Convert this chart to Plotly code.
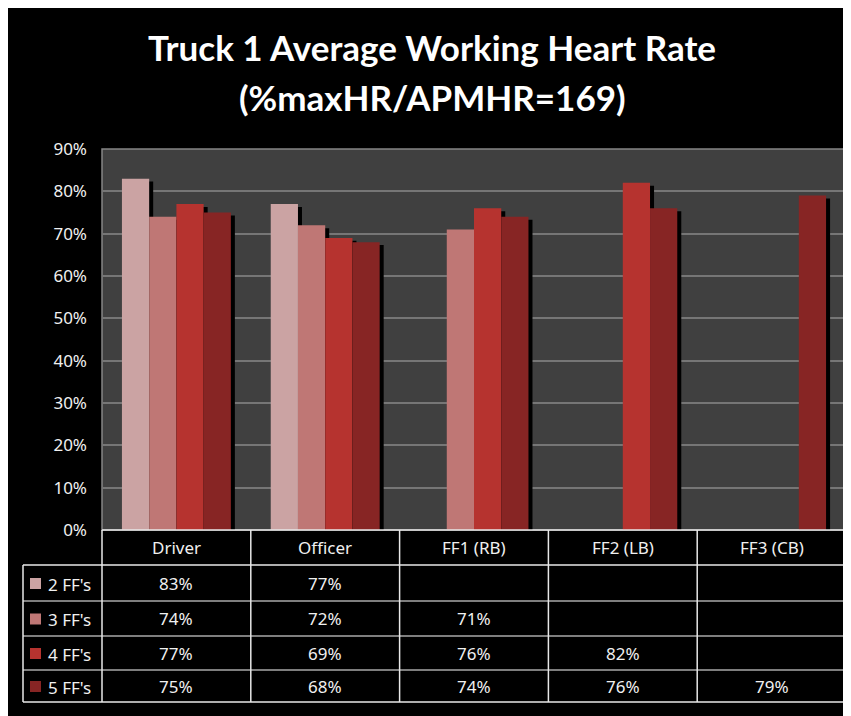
import plotly.graph_objects as go

# ---------------- data ----------------
categories = ["Driver", "Officer", "FF1 (RB)", "FF2 (LB)", "FF3 (CB)"]
series_names = ["2 FF's", "3 FF's", "4 FF's", "5 FF's"]
ff2_values = [83, 77, None, None, None]
ff3_values = [74, 72, 71, None, None]
ff4_values = [77, 69, 76, 82, None]
ff5_values = [75, 68, 74, 76, 79]
y_tick_values = [0, 10, 20, 30, 40, 50, 60, 70, 80, 90]
y_tick_labels = ["0%", "10%", "20%", "30%", "40%", "50%", "60%", "70%", "80%", "90%"]
title_line1 = "Truck 1 Average Working Heart Rate"
title_line2 = "(%maxHR/APMHR=169)"

series_values = [ff2_values, ff3_values, ff4_values, ff5_values]
series_colors = ["#CBA3A3", "#BF7775", "#B6332F", "#872524"]

# ---------------- geometry (screen px; page has 8px body margin) ----------------
W, H = 851, 716
OFF = 8
L = 102 - OFF
T = 149 - OFF
PLOT_BOTTOM = 530 - OFF
PW = 744
R = W - L - PW
B = H - PLOT_BOTTOM
PH = PLOT_BOTTOM - T


def px(xs):
    return (xs - OFF - L) / PW


def py(ys):
    return (PLOT_BOTTOM - (ys - OFF)) / PH


bar_w = 0.183
offsets = [-0.366, -0.183, 0.0, 0.183]
shadow_dx = 0.027
shadow_dy = 0.7

fig = go.Figure()

# shadows first
for vals, off in zip(series_values, offsets):
    fig.add_trace(go.Bar(
        x=categories,
        y=[(v - shadow_dy) if v is not None else None for v in vals],
        width=bar_w, offset=off + shadow_dx,
        marker=dict(color="black", line=dict(width=0)),
        showlegend=False, hoverinfo="skip",
    ))

for name, vals, off, col in zip(series_names, series_values, offsets, series_colors):
    fig.add_trace(go.Bar(
        x=categories, y=vals, name=name,
        width=bar_w, offset=off,
        marker=dict(color=col, line=dict(width=0)),
        showlegend=False,
    ))

shapes = []
# plot area border
shapes.append(dict(type="rect", xref="paper", yref="paper",
                   x0=0, x1=1, y0=0, y1=1,
                   fillcolor="rgba(0,0,0,0)", line=dict(color="#858585", width=1.5), layer="below"))

# ---------------- data table ----------------
n_cat = len(categories)
col_edges = [102 + k * PW / n_cat for k in range(n_cat + 1)]
header_top = 530
row_edges = [565, 601, 636, 670, 702]
left_edge = 23
outer = "#e8e8e8"
inner = "#a8a8a8"


def hline(x0, x1, y, color):
    return dict(type="line", xref="paper", yref="paper",
                x0=px(x0), x1=px(x1), y0=py(y), y1=py(y),
                line=dict(color=color, width=1.5))


def vline(x, y0, y1, color):
    return dict(type="line", xref="paper", yref="paper",
                x0=px(x), x1=px(x), y0=py(y0), y1=py(y1),
                line=dict(color=color, width=1.5))


shapes.append(hline(102, col_edges[-1], header_top, outer))
shapes.append(hline(left_edge, col_edges[-1], row_edges[0], outer))
for ry in row_edges[1:-1]:
    shapes.append(hline(left_edge, col_edges[-1], ry, inner))
shapes.append(hline(left_edge, col_edges[-1], row_edges[-1], outer))
shapes.append(vline(left_edge, row_edges[0], row_edges[-1], outer))
for cx in col_edges:
    shapes.append(vline(cx, header_top, row_edges[-1], outer))

annotations = []
text_font = dict(family="Noto Sans, DejaVu Sans, sans-serif", size=17, color="#f0f0f0")

# header
for i, cat in enumerate(categories):
    annotations.append(dict(
        x=(i + 0.5) / n_cat, y=py((header_top + row_edges[0]) / 2),
        xref="paper", yref="paper", text=cat, showarrow=False,
        xanchor="center", yanchor="middle", font=text_font))

# rows
for r, (name, vals, col) in enumerate(zip(series_names, series_values, series_colors)):
    yc = (row_edges[r] + row_edges[r + 1]) / 2
    shapes.append(dict(type="rect", xref="paper", yref="paper",
                       x0=px(30), x1=px(41), y0=py(yc + 6), y1=py(yc - 5),
                       fillcolor=col, line=dict(width=0)))
    annotations.append(dict(
        x=px(46), y=py(yc + 1), xref="paper", yref="paper", text=name,
        showarrow=False, xanchor="left", yanchor="middle", font=text_font))
    for i, v in enumerate(vals):
        if v is None:
            continue
        annotations.append(dict(
            x=(i + 0.5) / n_cat, y=py(yc), xref="paper", yref="paper",
            text=f"{v}%", showarrow=False, xanchor="center", yanchor="middle",
            font=text_font))

# title
title_font = dict(family="Lato, Open Sans, sans-serif", size=35, color="white")
annotations.append(dict(x=px(432), y=py(47), xref="paper", yref="paper",
                        text=f"<b>{title_line1}</b>", showarrow=False,
                        xanchor="center", yanchor="middle", font=title_font))
annotations.append(dict(x=px(432), y=py(97), xref="paper", yref="paper",
                        text=f"<b>{title_line2}</b>", showarrow=False,
                        xanchor="center", yanchor="middle", font=title_font))

fig.update_layout(
    width=W, height=H,
    margin=dict(l=L, r=R, t=T, b=B, pad=0),
    paper_bgcolor="black",
    plot_bgcolor="#404040",
    barmode="overlay",
    shapes=shapes,
    annotations=annotations,
    xaxis=dict(type="category", range=[-0.5, n_cat - 0.5], showticklabels=False,
               showgrid=False, zeroline=False, showline=False, ticks=""),
    yaxis=dict(range=[0, 90], tickvals=y_tick_values, ticktext=y_tick_labels,
               showgrid=True, gridcolor="#767676", gridwidth=1.5,
               zeroline=False, showline=False, ticks="",
               tickfont=dict(family="Noto Sans, DejaVu Sans, sans-serif", size=17, color="#f0f0f0"),
               ticklabelstandoff=14),
)

fig.write_html("out.html")
